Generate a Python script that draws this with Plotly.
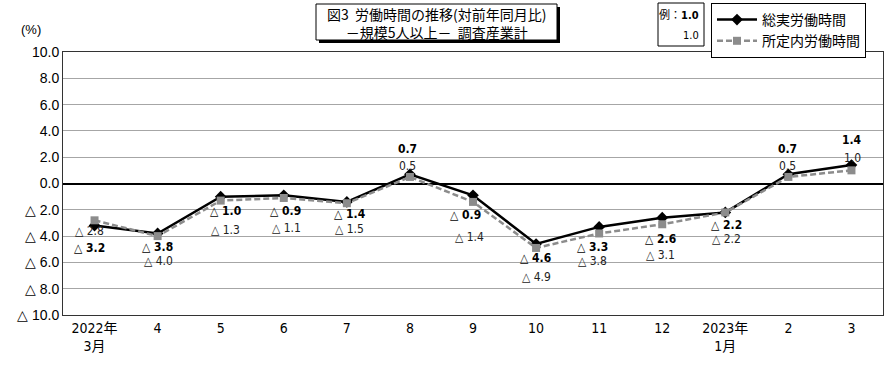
import plotly.graph_objects as go

# ---- data ----
month_labels = ["2022年<br>3月", "4", "5", "6", "7", "8", "9", "10", "11", "12", "2023年<br>1月", "2", "3"]
total_hours = [-3.2, -3.8, -1.0, -0.9, -1.4, 0.7, -0.9, -4.6, -3.3, -2.6, -2.2, 0.7, 1.4]
scheduled_hours = [-2.8, -4.0, -1.3, -1.1, -1.5, 0.5, -1.4, -4.9, -3.8, -3.1, -2.2, 0.5, 1.0]
y_tick_vals = [10, 8, 6, 4, 2, 0, -2, -4, -6, -8, -10]
y_tick_text = ["10.0", "8.0", "6.0", "4.0", "2.0", "0.0", "△ 2.0", "△ 4.0", "△ 6.0", "△ 8.0", "△ 10.0"]
series_names = ["総実労働時間", "所定内労働時間"]
title_lines = ["図3  労働時間の推移(対前年同月比)", "－規模5人以上－  調査産業計"]

# label offsets (pixels) – styling only
total_lbl_dx = [-5, 0, 5, 2, 3, -2, -8, -1, -7, -2, 1, -1, 1]
total_lbl_dy = [-22, -14, -14, -16, -12, 25, -20, -14, -20, -21, -13, 25, 25]
sched_lbl_dx = [-5, 1, 5, 3, 3, -2, -4, 0, -7, -2, 1, -1, 1]
sched_lbl_dy = [-11, -25, -29, -30, -26, 11, -35, -29, -28, -31, -27, 11, 12]

W, H = 890, 370
L, R, T, B = 63, 883, 52, 315

def px(x):
    return (x - L) / (R - L)

def py(y):
    return (B - y) / (B - T)

def fmt(v):
    return f"△ {abs(v):.1f}" if v < 0 else f"{v:.1f}"

NARROW = "DejaVu Sans Condensed, Liberation Sans Narrow, Liberation Sans, Noto Sans CJK JP"
JP = "Noto Sans CJK JP"

xs = list(range(len(month_labels)))

fig = go.Figure()
fig.add_trace(go.Scatter(
    x=xs, y=total_hours, name=series_names[0], mode="lines+markers",
    line=dict(color="black", width=2.5),
    marker=dict(symbol="diamond", size=9, color="black"),
))
fig.add_trace(go.Scatter(
    x=xs, y=scheduled_hours, name=series_names[1], mode="lines+markers",
    line=dict(color="#8c8c8c", width=2.5, dash="6px,3px"),
    marker=dict(symbol="square", size=8, color="#8c8c8c"),
))

annotations = []
for i, v in enumerate(total_hours):
    annotations.append(dict(
        x=i, y=v, xref="x", yref="y", text=f"<b>{fmt(v)}</b>", showarrow=False,
        xanchor="center", yanchor="middle",
        xshift=total_lbl_dx[i], yshift=total_lbl_dy[i],
        font=dict(family=NARROW, size=12, color="black")))
for i, v in enumerate(scheduled_hours):
    annotations.append(dict(
        x=i, y=v, xref="x", yref="y", text=fmt(v), showarrow=False,
        xanchor="center", yanchor="middle",
        xshift=sched_lbl_dx[i], yshift=sched_lbl_dy[i],
        font=dict(family=NARROW, size=12, color="#222222")))

def paper_text(x, y, text, size, family, xanchor="center"):
    return dict(x=px(x), y=py(y), xref="paper", yref="paper", text=text, showarrow=False,
                xanchor=xanchor, yanchor="middle",
                font=dict(family=family, size=size, color="black"))

# y-axis unit
annotations.append(paper_text(31, 30, "(%)", 13, "Liberation Sans"))
# title (two lines in one box)
annotations.append(paper_text(437, 23, "<br>".join(title_lines), 14, JP))
# example box text
annotations.append(paper_text(701, 15, "例：<b>1.0</b>", 11, NARROW, xanchor="right"))
annotations.append(paper_text(701, 35, "1.0", 11, NARROW, xanchor="right"))

shapes = [
    # title box shadow + box
    dict(type="rect", xref="paper", yref="paper", x0=px(319), x1=px(560), y0=py(7), y1=py(43),
         line=dict(width=0), fillcolor="black", layer="below"),
    dict(type="rect", xref="paper", yref="paper", x0=px(316), x1=px(557), y0=py(4), y1=py(40),
         line=dict(width=1, color="black"), fillcolor="white", layer="below"),
    # example box
    dict(type="rect", xref="paper", yref="paper", x0=px(658), x1=px(704), y0=py(3), y1=py(46),
         line=dict(width=1, color="black"), fillcolor="white", layer="below"),
]

fig.update_layout(
    width=W, height=H,
    margin=dict(l=L, r=W - R, t=T, b=H - B, autoexpand=False),
    plot_bgcolor="white", paper_bgcolor="white",
    showlegend=True,
    legend=dict(x=px(711), y=py(3), xanchor="left", yanchor="top",
                bgcolor="white", bordercolor="black", borderwidth=1,
                font=dict(family=JP, size=14, color="black"),
                tracegroupgap=0, itemwidth=40),
    annotations=annotations,
    shapes=shapes,
)
fig.update_xaxes(
    range=[-0.5, len(month_labels) - 0.5], tickvals=xs, ticktext=month_labels,
    showgrid=False, zeroline=False, showline=True, linecolor="#333333", linewidth=1, mirror=True,
    ticks="", tickfont=dict(family=NARROW, size=14, color="black"),
)
fig.update_yaxes(
    range=[-10, 10], tickvals=y_tick_vals, ticktext=y_tick_text,
    showgrid=True, gridcolor="#a6a6a6", gridwidth=1,
    zeroline=True, zerolinecolor="black", zerolinewidth=2,
    showline=True, linecolor="#333333", linewidth=1, mirror=True,
    ticks="", tickfont=dict(family="Liberation Sans", size=14, color="black"),
)

fig.write_html("out.html", config={"displayModeBar": False},
               post_script="document.body.style.margin='0';")
